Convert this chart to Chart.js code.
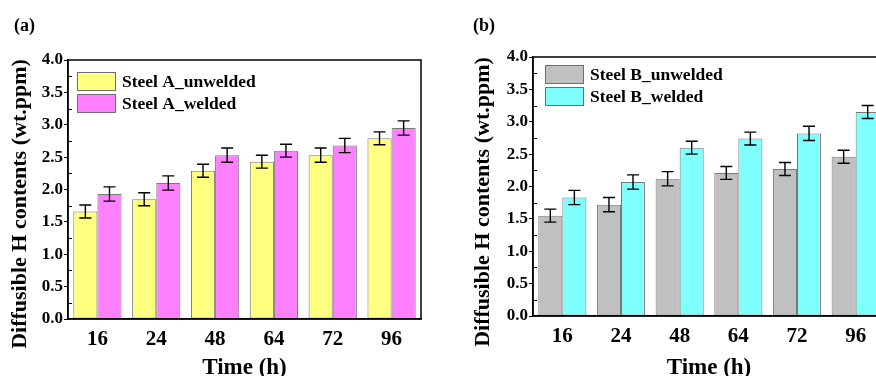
<!DOCTYPE html>
<html>
<head>
<meta charset="utf-8">
<script src="https://cdn.jsdelivr.net/npm/chart.js@4.4.1/dist/chart.umd.min.js"></script>
<style>
  html, body { margin: 0; padding: 0; background: #fff; }
  #wrap { position: relative; width: 876px; height: 376px; overflow: hidden; }
  .panel { position: absolute; top: 0; height: 376px; }
  #panelA { left: 0; width: 438px; }
  #panelB { left: 438px; width: 462px; }
  .tag { position: absolute; top: 15px; font: bold 18px "Liberation Serif", serif; color: #000; }
</style>
</head>
<body>
<div id="wrap">
  <div class="panel" id="panelA"><canvas id="chartA" width="438" height="376"></canvas></div>
  <div class="panel" id="panelB"><canvas id="chartB" width="462" height="376"></canvas></div>
  <div class="tag" style="left:14px">(a)</div>
  <div class="tag" style="left:473px">(b)</div>
</div>
<script>
// Categories (time in hours)
const times = ["16", "24", "48", "64", "72", "96"];

// Panel (a) - Steel A
const steelA_unwelded = [1.66, 1.85, 2.29, 2.43, 2.53, 2.79];
const steelA_unwelded_err = [0.10, 0.10, 0.10, 0.10, 0.11, 0.10];
const steelA_welded = [1.93, 2.10, 2.53, 2.60, 2.68, 2.95];
const steelA_welded_err = [0.11, 0.11, 0.11, 0.10, 0.11, 0.11];

// Panel (b) - Steel B
const steelB_unwelded = [1.55, 1.72, 2.12, 2.21, 2.27, 2.46];
const steelB_unwelded_err = [0.10, 0.11, 0.11, 0.10, 0.10, 0.10];
const steelB_welded = [1.83, 2.07, 2.60, 2.74, 2.82, 3.15];
const steelB_welded_err = [0.11, 0.11, 0.10, 0.10, 0.11, 0.10];

const yTitle = "Diffusible H contents (wt.ppm)";
const fontFamily = '"Liberation Serif", "Times New Roman", serif';

// Draws the error bars on top of each bar
const errorBars = {
    id: "errorBars",
    afterDatasetsDraw(chart) {
        const ctx = chart.ctx;
        const yScale = chart.scales.y;
        ctx.save();
        ctx.strokeStyle = "#000";
        ctx.lineWidth = 1.4;
        chart.data.datasets.forEach((ds, i) => {
            const meta = chart.getDatasetMeta(i);
            meta.data.forEach((bar, j) => {
                const v = ds.data[j];
                const e = ds.errors[j];
                const yTop = yScale.getPixelForValue(v + e);
                const yBot = yScale.getPixelForValue(v - e);
                ctx.beginPath();
                ctx.moveTo(bar.x, yTop); ctx.lineTo(bar.x, yBot);
                ctx.moveTo(bar.x - 6, yTop); ctx.lineTo(bar.x + 6, yTop);
                ctx.moveTo(bar.x - 6, yBot); ctx.lineTo(bar.x + 6, yBot);
                ctx.stroke();
            });
        });
        ctx.restore();
    }
};

// Frame around the plot area, minor ticks and the rotated y title
const frame = {
    id: "frame",
    afterDraw(chart, args, opts) {
        const ctx = chart.ctx;
        const a = chart.chartArea;
        const yScale = chart.scales.y;
        ctx.save();
        ctx.strokeStyle = "#000";
        ctx.lineWidth = 1.5;
        ctx.strokeRect(a.left, a.top, a.right - a.left, a.bottom - a.top);
        // minor ticks pointing inwards
        ctx.lineWidth = 1;
        for (let v = 0.25; v < 4; v += 0.5) {
            const y = Math.round(yScale.getPixelForValue(v)) + 0.5;
            ctx.beginPath();
            ctx.moveTo(a.left, y); ctx.lineTo(a.left + 4, y);
            ctx.stroke();
        }
        // y axis title
        ctx.translate(opts.titleX, opts.titleY);
        ctx.rotate(-Math.PI / 2);
        ctx.font = "bold 22px " + fontFamily;
        ctx.fillStyle = "#000";
        ctx.textAlign = "center";
        ctx.textBaseline = "middle";
        ctx.fillText(yTitle, 0, 0);
        ctx.restore();
    }
};

// Legend drawn inside the plot area
const insideLegend = {
    id: "insideLegend",
    afterDraw(chart, args, opts) {
        const ctx = chart.ctx;
        const a = chart.chartArea;
        ctx.save();
        ctx.font = "bold 17.5px " + fontFamily;
        ctx.textBaseline = "middle";
        chart.data.datasets.forEach((ds, i) => {
            const x = a.left + opts.dx;
            const y = a.top + opts.dy + i * 22;
            ctx.fillStyle = ds.backgroundColor;
            ctx.fillRect(x, y, 39, 19);
            ctx.strokeStyle = "#6e6e6e";
            ctx.lineWidth = 1;
            ctx.strokeRect(x + 0.5, y + 0.5, 38, 18);
            ctx.fillStyle = "#000";
            ctx.fillText(ds.label, x + 45, y + 10);
        });
        ctx.restore();
    }
};

function makeChart(id, sets, pad, yWidth, xHeight, legendPos, titlePos) {
    return new Chart(document.getElementById(id), {
        type: "bar",
        data: {
            labels: times,
            datasets: sets.map(s => ({
                label: s.label,
                data: s.data,
                errors: s.errors,
                backgroundColor: s.color,
                borderColor: "#7a7a7a",
                borderWidth: 1,
                borderSkipped: false,
                categoryPercentage: 0.82,
                barPercentage: 1.0
            }))
        },
        options: {
            responsive: false,
            animation: false,
            layout: { padding: pad },
            plugins: {
                legend: { display: false },
                tooltip: { enabled: false },
                insideLegend: legendPos,
                frame: titlePos
            },
            scales: {
                x: {
                    grid: { display: false, drawTicks: false },
                    border: { display: true, color: "#000", width: 1.5 },
                    ticks: { color: "#000", font: { family: fontFamily, size: 21, weight: "bold" }, padding: 8 },
                    title: { display: true, text: "Time (h)", color: "#000",
                             font: { family: fontFamily, size: 23, weight: "bold" }, padding: { top: 0, bottom: -6 } },
                    afterFit(scale) { scale.height = xHeight; }
                },
                y: {
                    min: 0, max: 4,
                    grid: { drawOnChartArea: false, tickLength: 4, color: "#000", lineWidth: 1 },
                    border: { display: true, color: "#000", width: 1.5 },
                    ticks: { stepSize: 0.5, color: "#000", padding: 1,
                             font: { family: fontFamily, size: 17, weight: "bold" },
                             callback: v => v.toFixed(1) },
                    afterFit(scale) { scale.width = yWidth; }
                }
            }
        },
        plugins: [errorBars, frame, insideLegend]
    });
}

makeChart("chartA", [
    { label: "Steel A_unwelded", data: steelA_unwelded, errors: steelA_unwelded_err, color: "#ffff80" },
    { label: "Steel A_welded", data: steelA_welded, errors: steelA_welded_err, color: "#ff80ff" }
], { left: 0, top: 60, right: 17, bottom: 0 }, 68, 57, { dx: 9, dy: 12 }, { titleX: 20, titleY: 204 });

makeChart("chartB", [
    { label: "Steel B_unwelded", data: steelB_unwelded, errors: steelB_unwelded_err, color: "#c0c0c0" },
    { label: "Steel B_welded", data: steelB_welded, errors: steelB_welded_err, color: "#80ffff" }
], { left: 0, top: 57, right: 15, bottom: 0 }, 95, 60, { dx: 12, dy: 8 }, { titleX: 45, titleY: 202 });
</script>
</body>
</html>
